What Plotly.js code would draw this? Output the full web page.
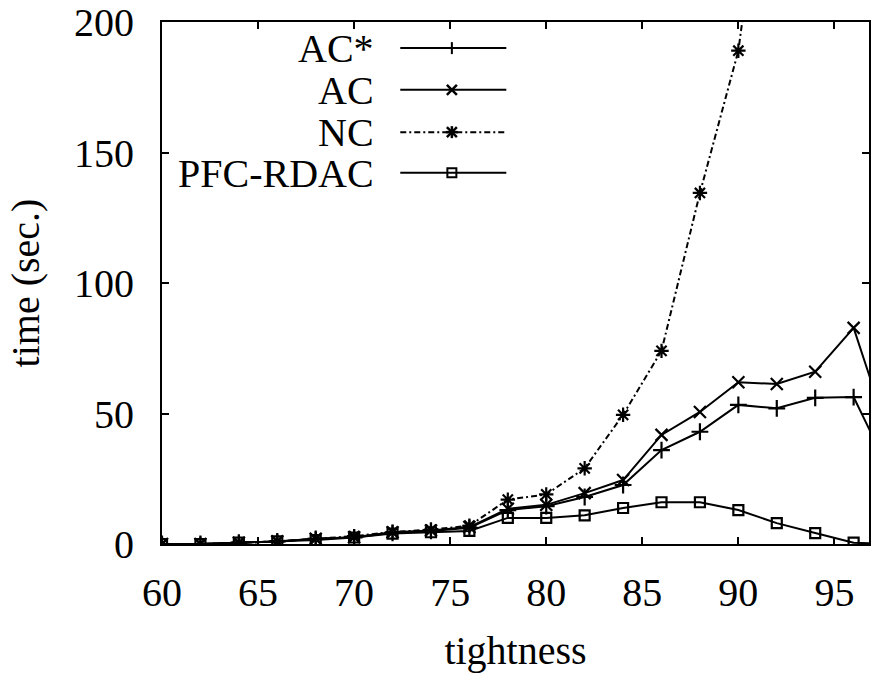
<!DOCTYPE html>
<html>
<head>
<meta charset="utf-8">
<script src="https://cdn.plot.ly/plotly-3.0.1.min.js"></script>
<style>html,body{margin:0;padding:0;background:#fff;}#chart{width:872px;height:673px;}</style>
</head>
<body>
<div id="chart"></div>
<script>
// tightness values
const tightness = [60,62,64,66,68,70,72,74,76,78,80,82,84,86,88,90,92,94,96,98];
// time (sec.) per algorithm
const acStar = [0,0,0.5,1,2,2.5,4.3,5,6.2,13,14.5,18,22.6,36,43,53.3,52,56,56.3,26];
const ac     = [0,0,0.5,1,2,2.6,4.5,5.2,6.5,13.5,15,19.5,24.5,41.8,50.6,62,61.3,66,82.8,38];
const nc     = [0,0,0.5,1,2,3,4.6,5.5,7,17,19,29,49.5,74,134.5,189,300,null,null,null];
const pfc    = [0,0,0.5,1,1.5,2.5,4,4.5,5,10,10,11,13.8,16,16,13,8,4.2,0.5,0];
const seriesNames = ["AC*","AC","NC","PFC-RDAC"];
const xTicks = [60,65,70,75,80,85,90,95];
const yTicks = [0,50,100,150,200];

const FONT = "'Times New Roman', 'Liberation Serif', Times, serif";
const black = "#000";

function tr(y, name, symbol, dash, msize){
  return {
    x: tightness, y: y, name: name, type: "scatter", mode: "lines+markers",
    line: {color: black, width: 2, dash: dash},
    marker: {symbol: symbol, size: msize, color: black, line: {color: black, width: 2.2}},
    connectgaps: false, showlegend: false, cliponaxis: true
  };
}
const data = [
  tr(acStar, seriesNames[0], "cross-thin-open", "solid", 12),
  tr(ac, seriesNames[1], "x-thin-open", "solid", 12),
  tr(nc, seriesNames[2], "asterisk-open", "6px,3px,2px,3px", 12),
  tr(pfc, seriesNames[3], "square-open", "solid", 10)
];

// gnuplot-style legend (text right, key sample to the right of text)
const legRows = [0.950, 0.870, 0.789, 0.711];
const legText = 0.301, legL = 0.337, legR = 0.487, legM = 0.410;
const dashes = ["solid","solid","6px,3px,2px,3px","solid"];
const shapes = [];
const annotations = [];
legRows.forEach((yy, i) => {
  annotations.push({xref:"paper", yref:"paper", x: legText, y: yy, xanchor:"right", yanchor:"middle",
    text: seriesNames[i], showarrow:false, height: 36, borderpad: 0,
    font:{family:FONT, size:40, color:black}});
  shapes.push({type:"line", xref:"paper", yref:"paper", x0:legL, x1:legR, y0:yy, y1:yy,
    line:{color:black, width:2, dash:dashes[i]}});
  const base = {xref:"paper", yref:"paper", xsizemode:"pixel", ysizemode:"pixel", xanchor:legM, yanchor:yy};
  if (i === 0) {
    shapes.push(Object.assign({type:"line", x0:0, x1:0, y0:-6, y1:6, line:{color:black,width:2}}, base));
  } else if (i === 1) {
    shapes.push(Object.assign({type:"line", x0:-5, x1:5, y0:-5, y1:5, line:{color:black,width:2.5}}, base));
    shapes.push(Object.assign({type:"line", x0:-5, x1:5, y0:5, y1:-5, line:{color:black,width:2.5}}, base));
  } else if (i === 2) {
    shapes.push(Object.assign({type:"line", x0:-5, x1:5, y0:-5, y1:5, line:{color:black,width:2.5}}, base));
    shapes.push(Object.assign({type:"line", x0:-5, x1:5, y0:5, y1:-5, line:{color:black,width:2.5}}, base));
    shapes.push(Object.assign({type:"line", x0:0, x1:0, y0:-6, y1:6, line:{color:black,width:2.5}}, base));
    shapes.push(Object.assign({type:"line", x0:-6, x1:6, y0:0, y1:0, line:{color:black,width:2.5}}, base));
  } else {
    shapes.push(Object.assign({type:"rect", x0:-4.5, x1:4.5, y0:-4.5, y1:4.5, line:{color:black,width:2}, fillcolor:"rgba(0,0,0,0)"}, base));
  }
});

const layout = {
  width: 872, height: 673,
  margin: {l:162, r:3, t:22, b:129, pad:0},
  paper_bgcolor: "#fff", plot_bgcolor: "#fff",
  font: {family: FONT, size: 40, color: black},
  showlegend: false,
  xaxis: {
    range: [60, 96.8], tickvals: xTicks, ticktext: xTicks.map(String),
    ticks: "inside", ticklen: 7, tickwidth: 2, tickcolor: black,
    showline: true, linecolor: black, linewidth: 2, mirror: "allticks",
    showgrid: false, zeroline: false,
    tickfont: {family: FONT, size: 40, color: black},
    ticklabelstandoff: 12,
    title: {text: "tightness", font: {family: FONT, size: 40, color: black}, standoff: 30}
  },
  yaxis: {
    range: [0, 200], tickvals: yTicks, ticktext: yTicks.map(String),
    ticks: "inside", ticklen: 7, tickwidth: 2, tickcolor: black,
    showline: true, linecolor: black, linewidth: 2, mirror: "allticks",
    showgrid: false, zeroline: false,
    tickfont: {family: FONT, size: 40, color: black},
    ticklabelstandoff: 18,
    title: {text: "time (sec.)", font: {family: FONT, size: 40, color: black}, standoff: 22}
  },
  shapes: shapes,
  annotations: annotations
};

Plotly.newPlot("chart", data, layout, {displayModeBar: false, staticPlot: true});
</script>
</body>
</html>
